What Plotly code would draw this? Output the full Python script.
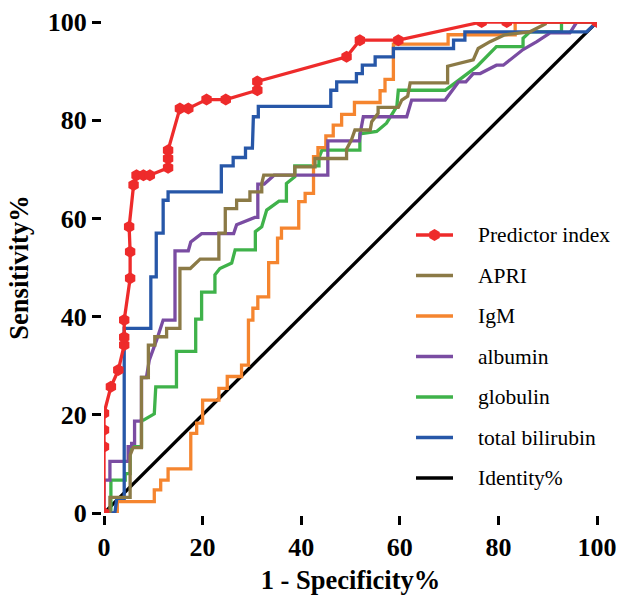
import plotly.graph_objects as go

# ---------------- data ----------------
names = ["Predictor index", "APRI", "IgM", "albumin", "globulin", "total bilirubin", "Identity%"]

pred_x = [0, 0, 0, 0, 1.4, 2.9, 4.1, 4.1, 4.1, 5.3, 5.3, 5.1, 6.0, 6.6, 8.0, 9.3, 13, 13, 13, 15.4, 17.1, 20.8, 24.7, 31.1, 31.1, 49.2, 51.9, 59.7, 76.6, 81.7, 100]
pred_y = [0, 13.5, 16.9, 20.3, 25.7, 29.1, 34.2, 35.8, 39.3, 47.8, 53.2, 58.3, 66.8, 68.8, 68.8, 68.8, 70.3, 72.2, 73.9, 82.4, 82.4, 84.2, 84.2, 86.1, 87.9, 92.9, 96.3, 96.3, 100, 100, 100]

apri_x = [0, 1.2, 1.2, 5.3, 5.3, 5.9, 7.6, 7.6, 9, 9, 10.3, 10.3, 12.7, 12.7, 15.4, 15.4, 17.5, 19.5, 23.3, 23.3, 24.6, 24.6, 26.9, 26.9, 29.6, 29.6, 32, 32, 32.4, 38.7, 38.7, 42.8, 42.8, 49.2, 49.2, 50.2, 50.9, 54, 54.3, 55.6, 55.6, 59.7, 60.4, 61.6, 62.1, 69.7, 69.7, 74.9, 75.9, 78.3, 81.3, 86.4, 89.5, 89.5, 100]
apri_y = [0, 0, 3.2, 3.2, 11.8, 13.3, 13.3, 27.6, 27.6, 34.2, 34.2, 35.9, 35.9, 37.6, 37.6, 49.8, 49.8, 51.7, 51.7, 57, 57, 62, 62, 63.7, 63.7, 65.4, 65.4, 67.1, 68.8, 68.8, 70.5, 70.5, 72.2, 72.2, 74.1, 76, 78, 78, 79.7, 81.4, 82.6, 82.6, 84.1, 84.9, 87.6, 87.6, 91, 92.3, 94.6, 96, 97.4, 98, 99.6, 100, 100]

igm_x = [0, 2.7, 2.7, 10.2, 10.2, 11.5, 11.5, 13, 13, 17.6, 17.6, 18.8, 18.8, 20, 20, 23.3, 23.3, 25, 25, 27.9, 27.9, 29.3, 29.3, 30.2, 30.2, 31.2, 31.2, 33.4, 33.4, 35.2, 35.2, 36, 36, 39.5, 39.5, 40.8, 40.8, 42.5, 42.5, 43.4, 43.4, 45, 45, 46.5, 46.5, 48.2, 48.2, 50.8, 50.8, 56, 56, 57, 57, 58.7, 58.7, 69.8, 69.8, 83.4, 83.4, 100]
igm_y = [0, 0, 2.3, 2.3, 4.7, 4.7, 6.7, 6.7, 9, 9, 16.2, 16.2, 18.3, 18.3, 23, 23, 25.4, 25.4, 27.8, 27.8, 30.1, 30.1, 39.3, 39.3, 41.7, 41.7, 44, 44, 51, 51, 56, 56, 58, 58, 63.4, 63.4, 65.1, 65.1, 72.6, 72.6, 74.4, 74.4, 76.8, 76.8, 79, 79, 81.2, 81.2, 83.6, 83.6, 86, 86, 88.3, 88.3, 95.5, 95.5, 97.4, 97.4, 100, 100]

alb_x = [0, 0, 1.2, 1.2, 4.9, 4.9, 5.6, 5.6, 6.2, 6.2, 7.6, 7.6, 8.6, 9.2, 10.7, 12, 14.4, 14.4, 17.1, 17.6, 19.8, 26.3, 26.9, 30.6, 31.2, 31.2, 32.5, 34.5, 45.4, 45.4, 51.8, 52, 52.6, 61.4, 62.4, 69.2, 71.9, 73.4, 74.9, 76.3, 79.6, 81, 85, 87.8, 90.5, 94.5, 95.9, 100]
alb_y = [0, 6.7, 6.7, 10.5, 10.5, 13.5, 13.5, 14.2, 14.2, 18.7, 18.7, 27.6, 27.6, 31.2, 35.3, 39.3, 39.3, 53.4, 53.4, 55.2, 56.9, 56.9, 58.7, 60.2, 60.2, 67, 67, 68.8, 68.8, 75.8, 75.8, 77.5, 80.7, 80.7, 84.1, 84.1, 87.8, 87.8, 89.5, 89.5, 91.2, 91.2, 94.4, 96, 97.8, 97.8, 100, 100]

glob_x = [0, 1.4, 1.4, 4.3, 4.3, 5.3, 5.3, 7.6, 7.6, 8, 10.2, 10.5, 14.7, 14.7, 18.6, 18.6, 19.8, 19.8, 22.5, 22.5, 23.5, 25.9, 26.6, 30.7, 30.7, 32, 33, 35.5, 37, 37, 38.7, 38.7, 43.6, 43.6, 44.2, 51.9, 51.9, 55.3, 57.3, 59.4, 59.7, 69.2, 71.5, 75.6, 79.6, 85, 85, 86.4, 92.8, 92.8, 100]
glob_y = [0, 0, 6.7, 6.7, 8, 8, 13.5, 13.5, 18.9, 18.9, 20.2, 25.7, 25.7, 32.9, 32.9, 39.5, 39.5, 45, 45, 48.5, 49.8, 50.9, 53.6, 53.6, 57.3, 58.3, 61.7, 63.5, 63.5, 67.1, 68.5, 70.7, 70.7, 72.3, 73.9, 73.9, 77.2, 77.7, 79.4, 82.8, 86.1, 86.1, 87.8, 90.9, 95, 95, 96.7, 98, 98, 100, 100]

bili_x = [0, 2.2, 2.6, 4.1, 4.1, 9.5, 9.5, 10.6, 10.6, 12, 12, 13, 13, 23.8, 23.8, 26.2, 26.2, 28.7, 28.7, 30.1, 30.3, 31.3, 31.3, 46, 46, 47.2, 47.2, 51.2, 51.2, 52.4, 52.4, 55, 55, 58.7, 58.7, 70.9, 70.9, 73.2, 73.2, 97.9, 100]
bili_y = [0, 0, 3, 3, 37.6, 37.6, 48.1, 48.1, 57, 57, 63.7, 63.7, 65.4, 65.4, 70.7, 70.7, 72.4, 72.4, 74.3, 74.3, 80.7, 80.7, 82.8, 82.8, 86.1, 86.1, 87.8, 87.8, 89.5, 89.5, 91.2, 91.2, 92.9, 92.9, 94.6, 94.6, 96.3, 96.3, 98, 98, 100]

ident_x = [0, 100]
ident_y = [0, 100]

tick_vals = [0, 20, 40, 60, 80, 100]
tick_text = ["0", "20", "40", "60", "80", "100"]

# ---------------- styling ----------------
colors = ["#EE2B2B", "#8B7A46", "#F5852F", "#7A4CA2", "#3FB24A", "#2757A8", "#000000"]
zorders = [7, 6, 3, 4, 2, 5, 1]
W, H = 637, 595
ML, MR, MT, MB = 104, 40, 22, 82
PW, PH = W - ML - MR, H - MT - MB

series = [(pred_x, pred_y), (apri_x, apri_y), (igm_x, igm_y), (alb_x, alb_y),
          (glob_x, glob_y), (bili_x, bili_y), (ident_x, ident_y)]

fig = go.Figure()
for i, (name, (xs, ys)) in enumerate(zip(names, series)):
    mk = (i == 0)
    fig.add_trace(go.Scatter(
        x=xs, y=ys, name=name,
        mode="lines+markers" if mk else "lines",
        line=dict(color=colors[i], width=3.3),
        marker=dict(symbol="hexagon", size=12, color=colors[i]) if mk else None,
        cliponaxis=False, showlegend=False,
        zorder=zorders[i],
    ))

# ---------------- manual legend (pixel layout -> paper coords) ----------------
def px_x(p):
    return (p - ML) / PW

def px_y(p):
    return (H - MB - p) / PH

leg_top, leg_step = 235, 40.5
line_x0, line_x1, text_x = 416, 453, 476
shapes, annotations = [], []
for i, name in enumerate(names):
    yy = px_y(leg_top + i * leg_step)
    shapes.append(dict(type="line", xref="paper", yref="paper",
                       x0=px_x(line_x0), x1=px_x(line_x1), y0=yy, y1=yy,
                       line=dict(color=colors[i], width=3.5)))
    annotations.append(dict(xref="paper", yref="paper", x=px_x(text_x), y=yy,
                            xanchor="left", yanchor="middle", showarrow=False,
                            text=name,
                            font=dict(family="Liberation Serif", size=21.5, color="black")))
# legend marker for the first series
fig.add_trace(go.Scatter(
    x=[px_x((line_x0 + line_x1) / 2) * 100], y=[px_y(leg_top) * 100],
    mode="markers", marker=dict(symbol="hexagon", size=12, color=colors[0]),
    showlegend=False, hoverinfo="skip", cliponaxis=False, zorder=8,
))

axis_font = dict(family="Liberation Serif", size=26.5, color="black")
tick_font = dict(family="Liberation Serif", size=26, color="black", weight="bold")
fig.update_layout(
    width=W, height=H,
    margin=dict(l=ML, r=MR, t=MT, b=MB, autoexpand=False),
    paper_bgcolor="white", plot_bgcolor="white",
    showlegend=False,
    shapes=shapes, annotations=annotations,
    xaxis=dict(
        range=[0, 100], tickvals=tick_vals, ticktext=tick_text,
        showline=True, linecolor="black", linewidth=3, mirror=False,
        ticks="outside", ticklen=9, tickwidth=3, tickcolor="black",
        showgrid=False, zeroline=False, layer="below traces", automargin=False,
        tickfont=tick_font,
        title=dict(text="<b>1 - Specificity%</b>", font=axis_font, standoff=10),
    ),
    yaxis=dict(
        range=[0, 100], tickvals=tick_vals, ticktext=tick_text,
        showline=True, linecolor="black", linewidth=3, mirror=False,
        ticks="outside", ticklen=9, tickwidth=3, tickcolor="black",
        showgrid=False, zeroline=False, layer="below traces", automargin=False,
        tickfont=tick_font,
        title=dict(text="<b>Sensitivity%</b>", font=axis_font, standoff=12),
    ),
)

fig.write_html("out.html", config={"displayModeBar": False},
               post_script="document.body.style.margin='0';")
